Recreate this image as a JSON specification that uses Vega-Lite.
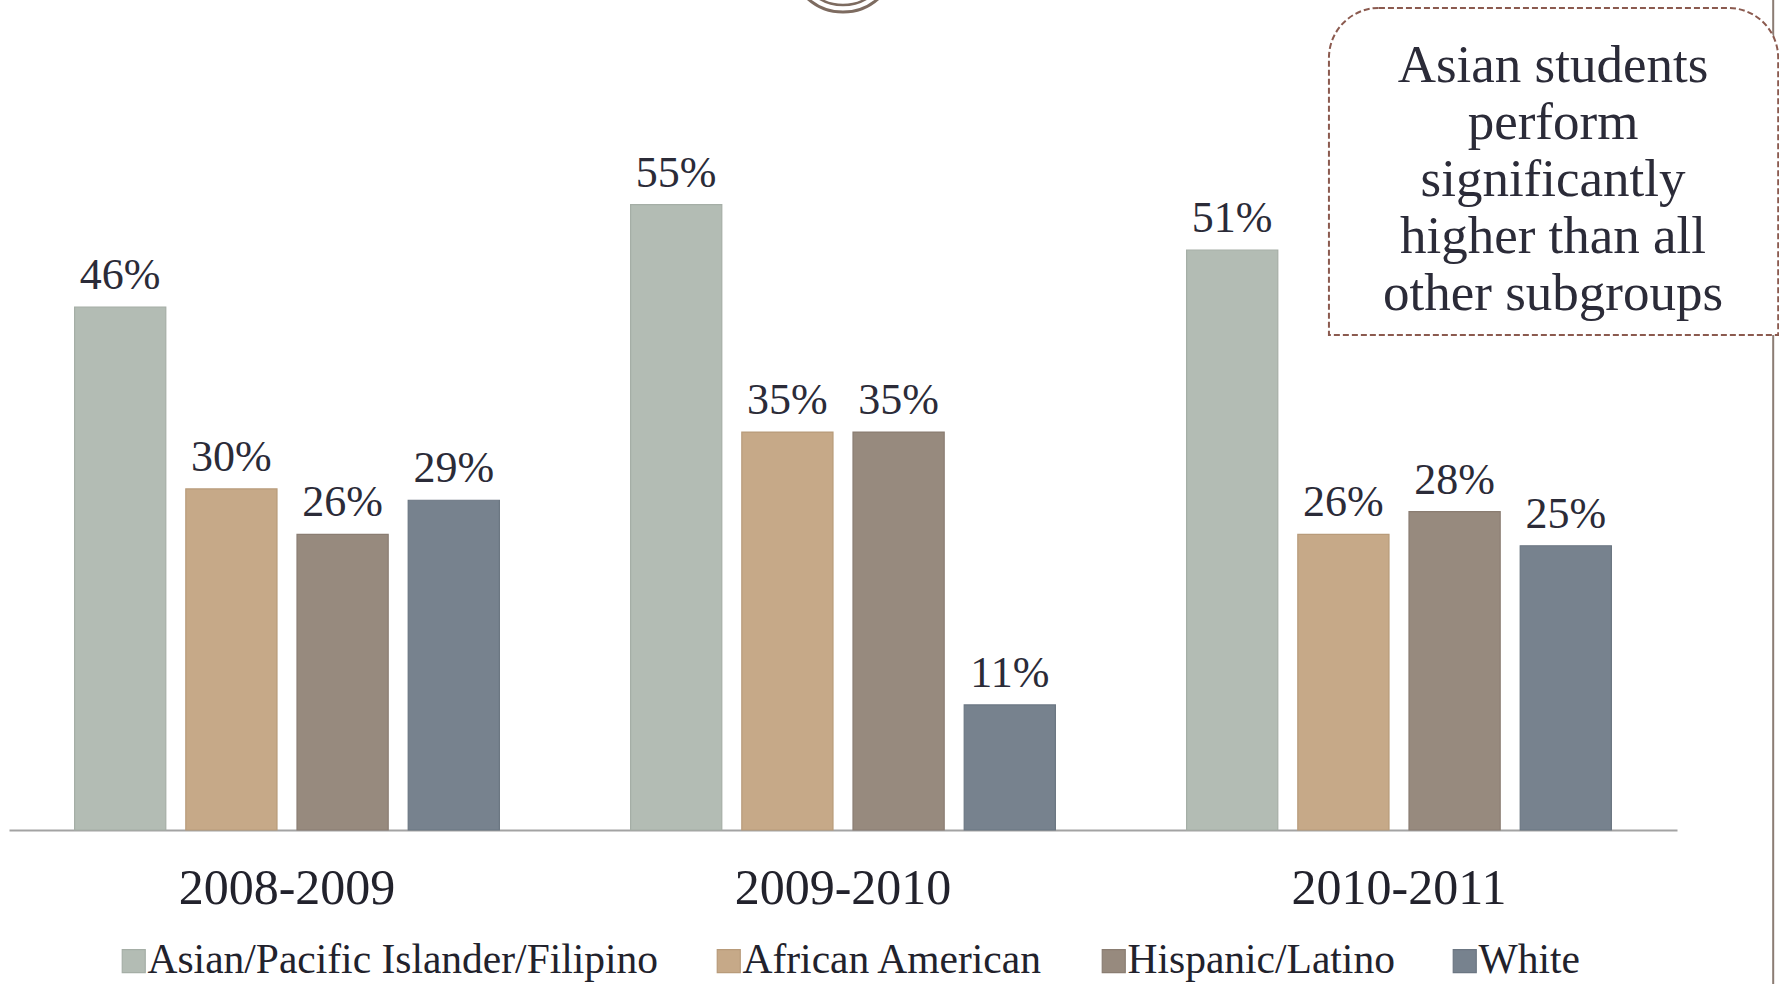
{
  "$schema": "https://vega.github.io/schema/vega-lite/v6.json",
  "width": 1668,
  "height": 830,
  "autosize": {"type": "none"},
  "padding": {"left": 9, "top": 0, "right": 102, "bottom": 154},
  "background": "white",
  "config": {"view": {"stroke": null}, "font": "Liberation Serif"},
  "datasets": {
    "scores": [
      {"year": "2008-2009", "group": "Asian/Pacific Islander/Filipino", "value": 0.46},
      {"year": "2008-2009", "group": "African American", "value": 0.30},
      {"year": "2008-2009", "group": "Hispanic/Latino", "value": 0.26},
      {"year": "2008-2009", "group": "White", "value": 0.29},
      {"year": "2009-2010", "group": "Asian/Pacific Islander/Filipino", "value": 0.55},
      {"year": "2009-2010", "group": "African American", "value": 0.35},
      {"year": "2009-2010", "group": "Hispanic/Latino", "value": 0.35},
      {"year": "2009-2010", "group": "White", "value": 0.11},
      {"year": "2010-2011", "group": "Asian/Pacific Islander/Filipino", "value": 0.51},
      {"year": "2010-2011", "group": "African American", "value": 0.26},
      {"year": "2010-2011", "group": "Hispanic/Latino", "value": 0.28},
      {"year": "2010-2011", "group": "White", "value": 0.25}
    ]
  },
  "layer": [
    {
      "data": {"values": [{}]},
      "mark": {"type": "rule", "color": "#8c7d74", "strokeWidth": 2},
      "encoding": {
        "x": {"datum": 3.173, "type": "quantitative", "scale": {"domain": [0, 3], "nice": false, "zero": false}, "axis": null},
        "y": {"datum": 0.73, "type": "quantitative", "scale": {"domain": [0, 0.73], "nice": false}, "axis": null},
        "y2": {"datum": -0.14}
      }
    },
    {
      "data": {"values": [{}]},
      "mark": {"type": "point", "shape": "circle", "filled": false, "stroke": "#7d6b60", "strokeWidth": 3, "size": 11236, "opacity": 1},
      "encoding": {
        "x": {"datum": 1.5, "type": "quantitative", "scale": {"domain": [0, 3], "nice": false, "zero": false}, "axis": null},
        "y": {"datum": 0.766, "type": "quantitative", "scale": {"domain": [0, 0.73], "nice": false}, "axis": null}
      }
    },
    {
      "data": {"values": [{}]},
      "mark": {"type": "point", "shape": "circle", "filled": false, "stroke": "#7d6b60", "strokeWidth": 2.5, "size": 8464, "opacity": 1},
      "encoding": {
        "x": {"datum": 1.5, "type": "quantitative", "scale": {"domain": [0, 3], "nice": false, "zero": false}, "axis": null},
        "y": {"datum": 0.766, "type": "quantitative", "scale": {"domain": [0, 0.73], "nice": false}, "axis": null}
      }
    },
    {
      "data": {"name": "scores"},
      "encoding": {
        "x": {
          "field": "year", "type": "nominal", "sort": null,
          "scale": {"paddingInner": 0, "paddingOuter": 0},
          "axis": {
            "title": null, "labelAngle": 0, "labelFontSize": 50, "labelFont": "Liberation Serif",
            "labelColor": "#22222c", "ticks": false, "tickSize": 0, "labelPadding": 58, "labelLimit": 500,
            "labelBaseline": "middle", "domainColor": "#a3a3a3", "domainWidth": 2, "grid": false
          }
        },
        "xOffset": {
          "field": "group", "type": "nominal",
          "sort": ["Asian/Pacific Islander/Filipino", "African American", "Hispanic/Latino", "White"],
          "scale": {"paddingInner": 0.18, "paddingOuter": 0.59}
        },
        "y": {"field": "value", "type": "quantitative", "scale": {"domain": [0, 0.73], "nice": false}, "axis": null}
      },
      "layer": [
        {
          "mark": {"type": "bar", "strokeWidth": 1.2},
          "encoding": {
            "color": {
              "field": "group", "type": "nominal",
              "sort": ["Asian/Pacific Islander/Filipino", "African American", "Hispanic/Latino", "White"],
              "scale": {
                "domain": ["Asian/Pacific Islander/Filipino", "African American", "Hispanic/Latino", "White"],
                "range": ["#b3bcb4", "#c6a988", "#978a7e", "#77828e"]
              },
              "legend": {
                "title": null, "orient": "none", "legendX": 104, "legendY": 940,
                "direction": "horizontal", "columns": 4, "symbolType": "square", "symbolSize": 529,
                "labelFontSize": 41.5, "labelFont": "Liberation Serif", "labelColor": "#22222c",
                "labelOffset": -7, "columnPadding": 49, "symbolStrokeWidth": 1.2,
                "symbolStrokeColor": "#999999", "symbolOpacity": 1, "labelLimit": 0, "padding": 0
              }
            },
            "stroke": {
              "field": "group", "type": "nominal",
              "scale": {
                "domain": ["Asian/Pacific Islander/Filipino", "African American", "Hispanic/Latino", "White"],
                "range": ["#a5aea6", "#b89b7a", "#8a7d72", "#6b7682"]
              },
              "legend": null
            }
          }
        },
        {
          "mark": {"type": "text", "baseline": "alphabetic", "dy": -18, "fontSize": 44, "font": "Liberation Serif", "color": "#2b2b38"},
          "encoding": {"text": {"field": "value", "type": "quantitative", "format": ".0%"}}
        }
      ]
    },
    {
      "data": {"values": [{}]},
      "mark": {
        "type": "rect", "fill": "white", "stroke": "#8b5a4f", "strokeDash": [6, 3], "strokeWidth": 2,
        "cornerRadiusTopLeft": 50, "cornerRadiusTopRight": 50
      },
      "encoding": {
        "x": {"datum": 2.374, "type": "quantitative", "scale": {"domain": [0, 3], "nice": false, "zero": false}, "axis": null},
        "x2": {"datum": 3.182},
        "y": {"datum": 0.723, "type": "quantitative", "scale": {"domain": [0, 0.73], "nice": false}, "axis": null},
        "y2": {"datum": 0.4354}
      }
    },
    {
      "data": {"values": [{}]},
      "mark": {
        "type": "text",
        "text": ["Asian students", "perform", "significantly", "higher than all", "other subgroups"],
        "align": "center", "baseline": "middle", "lineHeight": 57, "fontSize": 53,
        "font": "Liberation Serif", "color": "#2b2b38"
      },
      "encoding": {
        "x": {"datum": 2.777, "type": "quantitative", "scale": {"domain": [0, 3], "nice": false, "zero": false}, "axis": null},
        "y": {"datum": 0.672, "type": "quantitative", "scale": {"domain": [0, 0.73], "nice": false}, "axis": null}
      }
    }
  ],
  "resolve": {"scale": {"x": "independent"}}
}
